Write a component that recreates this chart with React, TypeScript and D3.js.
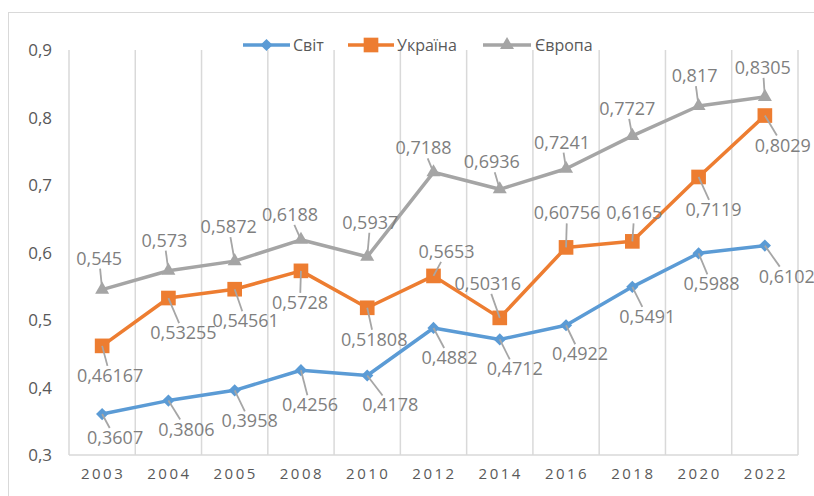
import React from "react";
import * as d3 from "d3";

const years = ["2003", "2004", "2005", "2008", "2010", "2012", "2014", "2016", "2018", "2020", "2022"];
const svit = [0.3607, 0.3806, 0.3958, 0.4256, 0.4178, 0.4882, 0.4712, 0.4922, 0.5491, 0.5988, 0.6102];
const ukraina = [0.46167, 0.53255, 0.54561, 0.5728, 0.51808, 0.5653, 0.50316, 0.60756, 0.6165, 0.7119, 0.8029];
const yevropa = [0.545, 0.573, 0.5872, 0.6188, 0.5937, 0.7188, 0.6936, 0.7241, 0.7727, 0.817, 0.8305];
const yTicks = [0.3, 0.4, 0.5, 0.6, 0.7, 0.8, 0.9];

// where each data label sits relative to its point (px)
const svitLabelOff = [[13, 24], [18, 29], [15, 31], [9, 35], [23, 30], [16, 30], [15, 30], [14, 29], [15, 30], [13, 31], [22, 31]];
const ukrLabelOff = [[8, 30], [15, 35], [11, 32], [-1, 32], [7, 32], [13, -24], [-12, -34], [1, -34], [2, -28], [15, 33], [18, 30]];
const evrLabelOff = [[-3, -31], [-4, -30], [-6, -34], [-11, -25], [3, -34], [-10, -24], [-8, -27], [-4, -26], [-5, -27], [-4, -30], [-2, -29]];

const width = 814;
const height = 496;
const left = 69;
const right = 798;
const top = 50;
const bottom = 455;

const fmt = (v: number) => String(v).replace(".", ",");

const App = () => {
  const x = d3.scaleBand().domain(years).range([left, right]);
  const y = d3.scaleLinear().domain([0.3, 0.9]).range([bottom, top]);
  const cx = (yr: string) => (x(yr) as number) + x.bandwidth() / 2;

  const line = d3
    .line<number>()
    .x((_, i) => cx(years[i]))
    .y((d) => y(d));

  const series = [
    { name: "Світ", values: svit, color: "#5b9bd5", marker: d3.symbolDiamond2, size: 95, offs: svitLabelOff },
    { name: "Україна", values: ukraina, color: "#ed7d31", marker: d3.symbolSquare, size: 215, offs: ukrLabelOff },
    { name: "Європа", values: yevropa, color: "#a5a5a5", marker: d3.symbolTriangle, size: 85, offs: evrLabelOff },
  ];

  const font = "'Open Sans', 'Noto Sans', sans-serif";

  const labels = series.flatMap((s) =>
    s.values.map((v, i) => {
      const px = cx(years[i]);
      const py = y(v);
      const lx = px + s.offs[i][0];
      const ly = py + s.offs[i][1];
      const text = fmt(v);
      const hw = text.length * 4.8 + 2;
      const hh = 10;
      const dx = px - lx;
      const dy = py - ly;
      const sc = Math.min(dx ? hw / Math.abs(dx) : Infinity, dy ? hh / Math.abs(dy) : Infinity);
      const ex = lx + dx * sc;
      const ey = ly + dy * sc;
      const dist = Math.hypot(px - ex, py - ey);
      return { key: s.name + i, px, py, lx, ly, ex, ey, text, dist };
    })
  );

  const legend = [
    { s: series[0], x0: 243, x1: 290, tx: 293 },
    { s: series[1], x0: 348, x1: 394, tx: 397 },
    { s: series[2], x0: 483, x1: 531, tx: 535 },
  ];

  return (
    <svg width={width} height={height} style={{ position: "absolute", left: 0, top: 0 }}>
      <rect x={0} y={0} width={width} height={height} fill="#fff" />
      <rect x={8.5} y={12.5} width={width} height={height} fill="#fff" stroke="#d9d9d9" />
      <defs>
        <clipPath id="frame">
          <rect x={9} y={13} width={width - 9} height={height - 13} />
        </clipPath>
      </defs>
      <g clipPath="url(#frame)">
        {years.map((yr) => (
          <line key={yr} x1={x(yr)} x2={x(yr)} y1={top} y2={bottom} stroke="#d9d9d9" strokeWidth={1.5} />
        ))}
        <line x1={right} x2={right} y1={top} y2={bottom} stroke="#d9d9d9" strokeWidth={1.5} />
        <line x1={left} x2={right} y1={bottom} y2={bottom} stroke="#d9d9d9" strokeWidth={1.5} />

        {yTicks.map((t) => (
          <text key={t} x={52} y={y(t) + 6} textAnchor="end" fontFamily={font} fontSize={17} fill="#595959">
            {fmt(t)}
          </text>
        ))}
        {years.map((yr) => (
          <text
            key={yr}
            x={cx(yr) + 1}
            y={479}
            textAnchor="middle"
            fontFamily={font}
            fontSize={15}
            letterSpacing={2.5}
            fill="#595959"
          >
            {yr}
          </text>
        ))}

        {series.map((s) => (
          <g key={s.name}>
            <path d={line(s.values) as string} fill="none" stroke={s.color} strokeWidth={3.5} strokeLinejoin="round" />
            {s.values.map((v, i) => (
              <path
                key={i}
                d={d3.symbol(s.marker, s.size)() as string}
                transform={`translate(${cx(years[i])},${y(v)})`}
                fill={s.color}
              />
            ))}
          </g>
        ))}

        {labels.map((l) =>
          l.dist > 6 ? (
            <line key={"l" + l.key} x1={l.px} y1={l.py} x2={l.ex} y2={l.ey} stroke="#a6a6a6" strokeWidth={1.8} />
          ) : null
        )}
        {labels.map((l) => (
          <text
            key={"t" + l.key}
            x={l.lx}
            y={l.ly + 6}
            textAnchor="middle"
            fontFamily={font}
            fontSize={18}
            fill="#7f7f7f"
          >
            {l.text}
          </text>
        ))}

        {legend.map((g) => (
          <g key={g.s.name}>
            <line x1={g.x0} x2={g.x1} y1={45} y2={45} stroke={g.s.color} strokeWidth={3.5} />
            <path
              d={d3.symbol(g.s.marker, g.s.size)() as string}
              transform={`translate(${(g.x0 + g.x1) / 2},45)`}
              fill={g.s.color}
            />
            <text x={g.tx} y={51} fontFamily={font} fontSize={16} fill="#595959">
              {g.s.name}
            </text>
          </g>
        ))}
      </g>
    </svg>
  );
};

export default App;
